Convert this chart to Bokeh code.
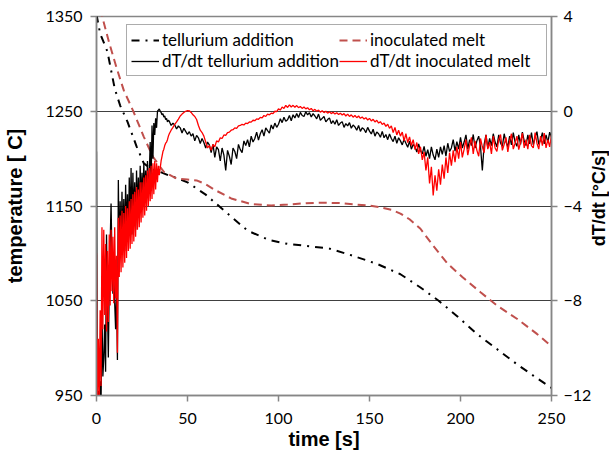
from bokeh.plotting import figure
from bokeh.models import (Range1d, LinearAxis, FixedTicker, Legend, LegendItem,
                          ColumnDataSource, Div)
from bokeh.layouts import row
from bokeh.embed import file_html
from bokeh.resources import INLINE

# ---------------- data ----------------
time_te = [0, 2, 6, 10, 13, 17, 22, 26, 30, 35, 40, 45, 50, 60, 72, 83, 95, 105,
           115, 128, 140, 154, 167, 178, 188, 198, 209, 220, 231, 240, 250]
temp_te = [1352, 1332, 1313, 1274, 1256, 1239, 1213, 1195, 1189, 1186, 1182, 1179,
           1175, 1162, 1142, 1124, 1114, 1110, 1108, 1105, 1098, 1089, 1078, 1064,
           1050, 1034, 1015, 999, 983, 971, 958]

time_inoc = [2, 7, 11, 15, 20, 26, 31, 37, 44, 50, 55, 60, 65, 74, 85, 96, 105,
             115, 125, 135, 143, 150, 156, 162, 167, 172, 178, 185, 193, 201, 211,
             220, 231, 242, 250]
temp_inoc = [1358, 1322, 1296, 1272, 1251, 1223, 1202, 1186, 1179, 1178, 1177,
             1173, 1167, 1158, 1152, 1150.5, 1151.5, 1153, 1153.5, 1153, 1151.5,
             1150.5, 1148.5, 1146, 1142, 1136, 1126, 1108, 1089, 1075, 1059, 1045,
             1031, 1015, 1002]

# sampling times of the derivative curves (0.5 s up to 40 s, then 1 s)
time_dt = [i * 0.5 for i in range(80)] + list(range(40, 251))

dtdt_te = [
    -1.7, -12.5, -11.8, -12.4, -11.4, -12.3, -8.5, -11.2, -10.4, -9.0,
    -11.0, -5.2, -8.2, -10.4, -7.4, -5.6, -3.9, -6.2, -7.7, -7.0,
    -8.1, -9.2, -7.6, -10.5, -2.9, -6.4, -3.8, -6.0, -3.4, -5.6,
    -3.7, -5.9, -3.1, -5.2, -3.5, -5.5, -2.8, -4.8, -2.4, -5.2,
    -2.6, -4.6, -3.0, -5.0, -2.5, -4.3, -2.8, -4.5, -2.3, -4.0,
    -2.6, -3.9, -2.2, -3.6, -2.5, -3.7, -2.1, -3.3, -2.7, -1.3,
    -3.0, -0.6, -2.0, -0.5, -1.0, -0.3, -0.7, 0.0, 0.05, 0.1,
    0.0, -0.05, -0.15, -0.1, -0.25, -0.2, -0.35, -0.3, -0.45, -0.38,
    # 40 s onwards, 1 s step
    -0.42, -0.6, -0.5, -0.58, -0.75, -0.62, -0.7, -0.92, -0.72, -0.85,
    -0.98, -0.86, -1.05, -0.95, -1.25, -1.02, -1.12, -1.36, -1.15, -1.32,
    -1.55, -1.3, -1.42, -1.75, -1.4, -1.95, -1.5, -1.62, -2.1, -1.55,
    -1.85, -2.5, -1.65, -1.9, -2.25, -1.55, -1.7, -2.0, -1.4, -1.62,
    -1.75, -1.25, -1.45, -1.2, -1.5, -1.05, -1.3, -1.15, -0.88, -1.22,
    -0.95, -0.78, -1.05, -0.7, -0.82, -0.92, -0.58, -0.75, -0.5, -0.68,
    -0.55, -0.32, -0.48, -0.25, -0.42, -0.36, -0.18, -0.4, -0.15, -0.28,
    -0.1, -0.26, -0.05, -0.18, -0.22, -0.02, -0.15, -0.06, -0.24, -0.1,
    -0.2, -0.32, -0.12, -0.38, -0.3, -0.22, -0.45, -0.35, -0.28, -0.52,
    -0.4, -0.55, -0.36, -0.6, -0.5, -0.44, -0.68, -0.52, -0.62, -0.48,
    -0.72, -0.58, -0.66, -0.8, -0.6, -0.85, -0.7, -0.76, -0.9, -0.68,
    -0.84, -0.96, -0.76, -1.05, -0.88, -0.95, -1.1, -0.85, -1.12, -0.98,
    -1.2, -0.96, -1.15, -1.28, -1.05, -1.35, -1.12, -1.25, -1.42, -1.18,
    -1.35, -1.52, -1.26, -1.6, -1.4, -1.5, -1.72, -1.38, -1.65, -1.8,
    -1.48, -1.9, -1.62, -2.0, -1.5, -1.85, -2.05, -1.6, -1.95, -1.5,
    -1.82, -1.45, -1.9, -1.35, -1.7, -1.55, -1.2, -1.68, -1.28, -1.6,
    -1.1, -1.55, -1.3, -1.0, -1.6, -1.2, -1.45, -0.98, -1.55, -1.25,
    -1.05, -1.5, -2.5, -1.4, -1.0, -1.55, -1.15, -1.45, -0.95, -1.3,
    -1.5, -1.0, -1.35, -1.48, -0.95, -1.3, -1.5, -1.05, -1.42, -0.9,
    -1.3, -1.48, -1.0, -1.4, -0.88, -1.25, -1.45, -1.0, -1.38, -0.9,
    -1.42, -1.1, -0.86, -1.4, -1.2, -0.9, -1.38, -1.0, -1.32, -0.88,
    -1.1,
]

dtdt_inoc = [
    -6.0, -12.5, -9.6, -12.3, -8.4, -11.6, -4.9, -9.2, -5.0, -8.6,
    -5.6, -9.3, -5.9, -8.9, -5.2, -8.2, -5.0, -7.6, -5.3, -8.1,
    -4.9, -7.9, -6.1, -10.2, -4.5, -7.0, -4.4, -6.8, -4.2, -6.6,
    -4.3, -6.4, -4.0, -6.2, -4.1, -5.9, -3.8, -5.8, -3.7, -5.6,
    -3.5, -5.5, -3.4, -5.3, -3.2, -5.0, -3.3, -4.9, -3.0, -4.7,
    -3.0, -4.5, -2.8, -4.4, -2.7, -4.2, -2.5, -4.0, -2.4, -3.8,
    -2.3, -3.7, -2.2, -3.5, -2.1, -3.3, -2.2, -3.0, -2.3, -2.7,
    -2.4, -2.1, -1.9, -1.7, -1.6, -1.45, -1.35, -1.3, -1.2, -1.05,
    # 40 s onwards, 1 s step
    -0.95, -0.8, -0.68, -0.55, -0.45, -0.33, -0.2, -0.12, -0.05, 0.0,
    0.03, 0.02, -0.05, -0.15, -0.22, -0.35, -0.6, -0.8, -0.9, -1.05,
    -1.3, -1.55, -1.45, -1.65, -1.4, -1.5, -1.25, -1.3, -1.12, -1.15,
    -1.0, -1.02, -0.9, -0.88, -0.8, -0.78, -0.7, -0.72, -0.62, -0.6,
    -0.55, -0.58, -0.5, -0.52, -0.45, -0.46, -0.38, -0.4, -0.32, -0.34,
    -0.26, -0.28, -0.18, -0.22, -0.12, -0.15, -0.08, -0.1, 0.0, -0.02,
    0.1, 0.05, 0.18, 0.12, 0.25, 0.16, 0.27, 0.18, 0.25, 0.17,
    0.24, 0.15, 0.2, 0.12, 0.18, 0.1, 0.15, 0.06, 0.12, 0.02,
    0.08, 0.0, 0.05, -0.04, 0.02, -0.06, 0.0, -0.08, -0.02, -0.1,
    -0.04, -0.12, -0.06, -0.14, -0.08, -0.16, -0.1, -0.2, -0.12, -0.22,
    -0.15, -0.25, -0.18, -0.27, -0.2, -0.3, -0.24, -0.33, -0.27, -0.37,
    -0.3, -0.41, -0.34, -0.45, -0.38, -0.5, -0.44, -0.56, -0.5, -0.64,
    -0.55, -0.72, -0.62, -0.9, -0.68, -1.0, -0.8, -1.05, -0.88, -1.25,
    -0.95, -1.32, -1.08, -1.45, -1.2, -1.62, -1.32, -1.8, -1.5, -2.05,
    -1.72, -2.5, -1.95, -3.05, -2.35, -3.55, -2.7, -3.35, -2.45, -3.1,
    -2.25, -2.85, -1.95, -2.6, -1.75, -2.3, -1.65, -2.15, -1.5, -2.0,
    -1.3, -1.95, -1.6, -1.2, -1.85, -1.45, -1.1, -1.8, -1.25, -1.65,
    -1.9, -1.15, -1.5, -1.75, -1.0, -1.6, -1.3, -1.8, -1.05, -1.55,
    -1.7, -1.2, -0.98, -1.65, -1.4, -1.1, -1.72, -1.25, -0.95, -1.6,
    -1.35, -1.05, -1.62, -1.3, -0.92, -1.55, -1.2, -1.6, -1.0, -1.45,
    -1.55, -0.9, -1.35, -1.6, -1.05, -1.45, -0.92, -1.55, -1.2, -1.5,
    -1.0,
]

x_ticks = [0, 50, 100, 150, 200, 250]
temp_ticks = [950, 1050, 1150, 1250, 1350]
dt_ticks = [-12, -8, -4, 0, 4]
grid_ticks = [1050, 1150, 1250]

labels = ["tellurium addition", "inoculated melt",
          "dT/dt tellurium addition", "dT/dt inoculated melt"]
right_title_text = "dT/dt [°C/s]"

# ---------------- figure ----------------
TICK_FONT = "Lato"
TITLE_FONT = "Liberation Sans"
AX_COLOR = "#868686"

p = figure(width=595, height=458, x_range=Range1d(0, 250),
           y_range=Range1d(950, 1350), output_backend="svg",
           toolbar_location=None, min_border_left=96, min_border_right=44,
           min_border_top=16, min_border_bottom=63)
p.extra_y_ranges = {"dt": Range1d(-12, 4)}
p.background_fill_color = "white"
p.border_fill_color = "white"
p.outline_line_color = AX_COLOR
p.outline_line_width = 1.5

p.xgrid.visible = False
p.ygrid.ticker = FixedTicker(ticks=grid_ticks)
p.ygrid.grid_line_color = "#404040"
p.ygrid.grid_line_width = 1

right_axis = LinearAxis(y_range_name="dt")
p.add_layout(right_axis, "right")

p.xaxis.ticker = FixedTicker(ticks=x_ticks)
p.yaxis[0].ticker = FixedTicker(ticks=temp_ticks)
right_axis.ticker = FixedTicker(ticks=dt_ticks)

for ax in [p.xaxis[0], p.yaxis[0], right_axis]:
    ax.axis_line_color = AX_COLOR
    ax.axis_line_width = 1.5
    ax.major_tick_line_color = AX_COLOR
    ax.major_tick_line_width = 1.5
    ax.major_tick_out = 6
    ax.major_tick_in = 0
    ax.minor_tick_out = 0
    ax.minor_tick_in = 0
    ax.major_label_text_font = TICK_FONT
    ax.major_label_text_font_size = "16px"
    ax.major_label_text_color = "black"
    ax.major_label_standoff = 8
p.xaxis.major_label_standoff = 11
right_axis.major_label_standoff = 6
right_axis.axis_label_standoff = 0

p.xaxis.axis_label = "time [s]"
p.yaxis[0].axis_label = "temperature [ C]"
for ax in [p.xaxis[0], p.yaxis[0]]:
    ax.axis_label_text_font = TITLE_FONT
    ax.axis_label_text_font_style = "bold"
    ax.axis_label_text_color = "black"
p.xaxis.axis_label_text_font_size = "20px"
p.yaxis[0].axis_label_text_font_size = "20px"
p.xaxis.axis_label_standoff = 1
p.yaxis[0].axis_label_standoff = 16

# ---------------- curves ----------------
src_te = ColumnDataSource(dict(t=time_te, T=temp_te))
src_in = ColumnDataSource(dict(t=time_inoc, T=temp_inoc))
src_dt = ColumnDataSource(dict(t=time_dt, a=dtdt_te, b=dtdt_inoc))

r1 = p.line("t", "T", source=src_te, line_color="black", line_width=2,
            line_dash="8 6 2 6")
r2 = p.line("t", "T", source=src_in, line_color="#C0504D", line_width=2,
            line_dash="8 5")
r3 = p.line("t", "a", source=src_dt, y_range_name="dt", line_color="black",
            line_width=1.3)
r4 = p.line("t", "b", source=src_dt, y_range_name="dt", line_color="#FF0000",
            line_width=1.3)

legend = Legend(items=[LegendItem(label=labels[0], renderers=[r1]),
                       LegendItem(label=labels[2], renderers=[r3]),
                       LegendItem(label=labels[1], renderers=[r2]),
                       LegendItem(label=labels[3], renderers=[r4])],
                location=(30, 319), ncols=2)
legend.label_text_font = TICK_FONT
legend.label_text_font_size = "17px"
legend.label_text_color = "black"
legend.padding = 4
legend.spacing = 0
legend.margin = 0
legend.label_height = 20
legend.label_width = 172
legend.glyph_height = 20
legend.glyph_width = 28
legend.label_standoff = 3
legend.border_line_color = "#595959"
legend.border_line_width = 1
legend.background_fill_color = "white"
legend.background_fill_alpha = 1.0
p.add_layout(legend)

# right-hand axis title, reading bottom-to-top as in the original
span_style = ("display:block; width:19px; margin-left:-5px; margin-top:150px; "
              "writing-mode:vertical-rl; transform:rotate(180deg); "
              "font-family:'Liberation Sans', Arial, sans-serif; "
              "font-weight:bold; font-size:18px; line-height:19px; "
              "white-space:nowrap; color:black;")
right_title = Div(text=f'<span style="{span_style}">{right_title_text}</span>',
                  width=14, height=458, margin=0)

layout = row(p, right_title)

open("out.html", "w").write(file_html(layout, INLINE))
